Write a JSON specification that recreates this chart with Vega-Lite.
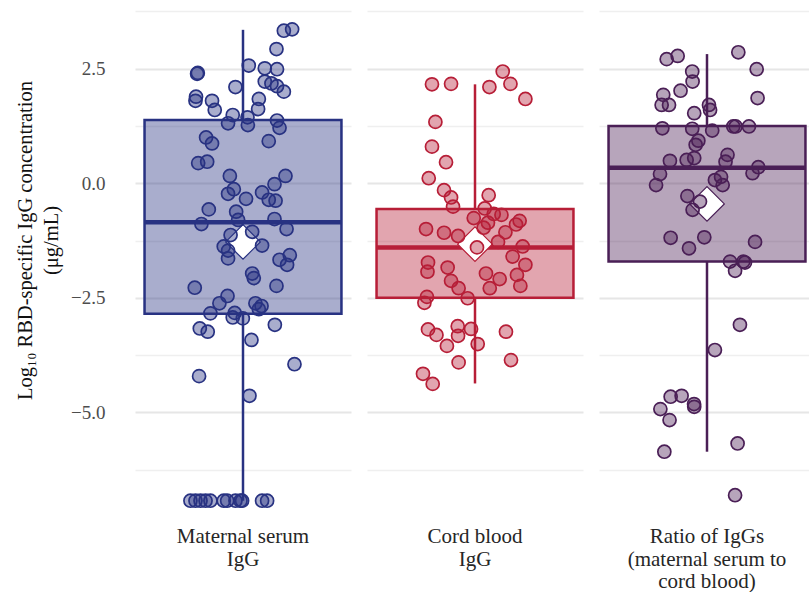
{
  "$schema": "https://vega.github.io/schema/vega-lite/v6.json",
  "padding": {"left": 15, "top": 6, "right": 0, "bottom": 0},
  "background": "white",
  "data": {"values": [
    {"g":"M","kind":"box","q1":-2.85,"q3":1.38,"med":-0.85,"lo":-6.93,"hi":3.35,"mean":-1.28},
    {"g":"C","kind":"box","q1":-2.50,"q3":-0.56,"med":-1.40,"lo":-4.37,"hi":2.16,"mean":-1.33},
    {"g":"R","kind":"box","q1":-1.71,"q3":1.25,"med":0.34,"lo":-5.86,"hi":2.82,"mean":-0.45},
    {"g":"M","j":0.227,"v":3.33},{"g":"M","j":0.273,"v":3.36},{"g":"M","j":0.186,"v":2.93},{"g":"M","j":-0.255,"v":2.39},
    {"g":"M","j":-0.251,"v":2.41},{"g":"M","j":0.032,"v":2.57},{"g":"M","j":0.121,"v":2.51},{"g":"M","j":0.189,"v":2.49},
    {"g":"M","j":-0.042,"v":2.10},{"g":"M","j":0.121,"v":2.22},{"g":"M","j":0.158,"v":2.18},{"g":"M","j":0.189,"v":2.12},
    {"g":"M","j":0.227,"v":2.00},{"g":"M","j":-0.261,"v":1.89},{"g":"M","j":-0.264,"v":1.80},{"g":"M","j":-0.172,"v":1.80},
    {"g":"M","j":-0.157,"v":1.60},{"g":"M","j":0.088,"v":1.84},{"g":"M","j":0.084,"v":1.62},{"g":"M","j":-0.057,"v":1.49},
    {"g":"M","j":0.025,"v":1.44},{"g":"M","j":-0.083,"v":1.31},{"g":"M","j":0.027,"v":1.27},{"g":"M","j":0.189,"v":1.37},
    {"g":"M","j":0.203,"v":1.21},{"g":"M","j":0.143,"v":0.92},{"g":"M","j":-0.205,"v":1.00},{"g":"M","j":-0.172,"v":0.87},
    {"g":"M","j":-0.249,"v":0.44},{"g":"M","j":-0.199,"v":0.47},{"g":"M","j":-0.073,"v":0.16},{"g":"M","j":-0.051,"v":-0.13},
    {"g":"M","j":-0.083,"v":-0.23},{"g":"M","j":0.017,"v":-0.34},{"g":"M","j":0.236,"v":0.16},{"g":"M","j":0.175,"v":-0.02},
    {"g":"M","j":0.106,"v":-0.20},{"g":"M","j":0.143,"v":-0.36},{"g":"M","j":0.181,"v":-0.38},{"g":"M","j":-0.19,"v":-0.57},
    {"g":"M","j":-0.038,"v":-0.62},{"g":"M","j":-0.027,"v":-0.80},{"g":"M","j":-0.231,"v":-0.89},{"g":"M","j":0.175,"v":-0.78},
    {"g":"M","j":0.242,"v":-1.00},{"g":"M","j":-0.069,"v":-1.13},{"g":"M","j":0.051,"v":-1.06},{"g":"M","j":-0.107,"v":-1.38},
    {"g":"M","j":-0.083,"v":-1.47},{"g":"M","j":0.106,"v":-1.36},{"g":"M","j":0.26,"v":-1.57},{"g":"M","j":0.203,"v":-1.67},
    {"g":"M","j":-0.083,"v":-1.64},{"g":"M","j":0.245,"v":-1.78},{"g":"M","j":0.051,"v":-1.97},{"g":"M","j":0.06,"v":-2.07},
    {"g":"M","j":-0.268,"v":-2.28},{"g":"M","j":0.186,"v":-2.24},{"g":"M","j":-0.086,"v":-2.46},{"g":"M","j":-0.131,"v":-2.62},
    {"g":"M","j":-0.181,"v":-2.84},{"g":"M","j":-0.046,"v":-2.83},{"g":"M","j":-0.057,"v":-2.93},{"g":"M","j":-0.001,"v":-2.95},
    {"g":"M","j":0.069,"v":-2.62},{"g":"M","j":0.103,"v":-2.68},{"g":"M","j":0.088,"v":-2.75},{"g":"M","j":-0.24,"v":-3.17},
    {"g":"M","j":-0.196,"v":-3.24},{"g":"M","j":0.177,"v":-3.09},{"g":"M","j":0.047,"v":-3.42},{"g":"M","j":0.286,"v":-3.95},
    {"g":"M","j":-0.244,"v":-4.21},{"g":"M","j":0.036,"v":-4.64},
    {"g":"M","j":-0.292,"v":-6.93},{"g":"M","j":-0.264,"v":-6.93},{"g":"M","j":-0.236,"v":-6.93},{"g":"M","j":-0.208,"v":-6.93},
    {"g":"M","j":-0.181,"v":-6.93},{"g":"M","j":-0.107,"v":-6.93},{"g":"M","j":-0.088,"v":-6.93},{"g":"M","j":-0.042,"v":-6.93},
    {"g":"M","j":-0.014,"v":-6.93},{"g":"M","j":-0.005,"v":-6.93},{"g":"M","j":0.106,"v":-6.93},{"g":"M","j":0.134,"v":-6.93},
    {"g":"C","j":0.154,"v":2.44},{"g":"C","j":0.197,"v":2.17},{"g":"C","j":-0.239,"v":2.16},{"g":"C","j":-0.133,"v":2.17},
    {"g":"C","j":0.08,"v":2.10},{"g":"C","j":0.28,"v":1.84},{"g":"C","j":-0.22,"v":1.34},{"g":"C","j":-0.239,"v":0.80},
    {"g":"C","j":-0.161,"v":0.46},{"g":"C","j":-0.257,"v":0.11},{"g":"C","j":-0.172,"v":-0.15},{"g":"C","j":-0.133,"v":-0.31},
    {"g":"C","j":-0.122,"v":-0.51},{"g":"C","j":0.076,"v":-0.26},{"g":"C","j":0.054,"v":-0.55},{"g":"C","j":-0.007,"v":-0.76},
    {"g":"C","j":0.104,"v":-0.67},{"g":"C","j":0.147,"v":-0.69},{"g":"C","j":0.072,"v":-0.86},{"g":"C","j":0.048,"v":-0.97},
    {"g":"C","j":0.248,"v":-0.82},{"g":"C","j":0.228,"v":-0.90},{"g":"C","j":-0.272,"v":-1.00},{"g":"C","j":-0.172,"v":-1.08},
    {"g":"C","j":-0.094,"v":-1.15},{"g":"C","j":0.169,"v":-1.07},{"g":"C","j":0.128,"v":-1.28},{"g":"C","j":0.265,"v":-1.38},
    {"g":"C","j":0.011,"v":-1.40},{"g":"C","j":0.209,"v":-1.60},{"g":"C","j":0.28,"v":-1.78},{"g":"C","j":-0.261,"v":-1.73},
    {"g":"C","j":-0.264,"v":-1.93},{"g":"C","j":-0.152,"v":-1.84},{"g":"C","j":-0.133,"v":-2.13},{"g":"C","j":-0.091,"v":-2.29},
    {"g":"C","j":0.061,"v":-1.97},{"g":"C","j":0.137,"v":-2.09},{"g":"C","j":0.082,"v":-2.29},{"g":"C","j":0.233,"v":-2.00},
    {"g":"C","j":0.252,"v":-2.24},{"g":"C","j":-0.267,"v":-2.48},{"g":"C","j":-0.281,"v":-2.61},{"g":"C","j":-0.041,"v":-2.51},
    {"g":"C","j":-0.261,"v":-3.19},{"g":"C","j":-0.214,"v":-3.31},{"g":"C","j":-0.096,"v":-3.12},{"g":"C","j":-0.094,"v":-3.33},
    {"g":"C","j":-0.022,"v":-3.18},{"g":"C","j":0.015,"v":-3.51},{"g":"C","j":-0.156,"v":-3.55},{"g":"C","j":0.172,"v":-3.24},
    {"g":"C","j":-0.091,"v":-3.91},{"g":"C","j":0.2,"v":-3.86},{"g":"C","j":-0.289,"v":-4.16},{"g":"C","j":-0.235,"v":-4.38},
    {"g":"R","j":-0.224,"v":2.71},{"g":"R","j":-0.163,"v":2.78},{"g":"R","j":0.174,"v":2.86},{"g":"R","j":0.276,"v":2.49},
    {"g":"R","j":-0.082,"v":2.44},{"g":"R","j":-0.08,"v":2.22},{"g":"R","j":-0.147,"v":2.02},{"g":"R","j":-0.243,"v":1.93},
    {"g":"R","j":-0.252,"v":1.71},{"g":"R","j":-0.211,"v":1.71},{"g":"R","j":0.281,"v":1.86},{"g":"R","j":-0.071,"v":1.53},
    {"g":"R","j":0.011,"v":1.71},{"g":"R","j":0.017,"v":1.60},{"g":"R","j":-0.248,"v":1.20},{"g":"R","j":-0.082,"v":1.19},
    {"g":"R","j":0.029,"v":1.15},{"g":"R","j":0.146,"v":1.24},{"g":"R","j":0.159,"v":1.24},{"g":"R","j":0.233,"v":1.24},
    {"g":"R","j":-0.048,"v":0.93},{"g":"R","j":-0.063,"v":0.84},{"g":"R","j":0.114,"v":0.62},{"g":"R","j":0.103,"v":0.47},
    {"g":"R","j":-0.206,"v":0.49},{"g":"R","j":-0.113,"v":0.51},{"g":"R","j":-0.071,"v":0.55},{"g":"R","j":-0.261,"v":0.20},
    {"g":"R","j":-0.283,"v":-0.04},{"g":"R","j":0.044,"v":0.07},{"g":"R","j":0.078,"v":0.14},{"g":"R","j":0.087,"v":-0.04},
    {"g":"R","j":0.285,"v":0.35},{"g":"R","j":0.253,"v":0.22},{"g":"R","j":-0.109,"v":-0.28},{"g":"R","j":-0.039,"v":-0.40},
    {"g":"R","j":-0.08,"v":-0.58},{"g":"R","j":-0.202,"v":-1.19},{"g":"R","j":-0.015,"v":-1.18},{"g":"R","j":-0.1,"v":-1.42},
    {"g":"R","j":0.267,"v":-1.28},{"g":"R","j":0.128,"v":-1.71},{"g":"R","j":0.202,"v":-1.71},{"g":"R","j":0.211,"v":-1.73},
    {"g":"R","j":0.156,"v":-1.91},{"g":"R","j":0.183,"v":-3.09},{"g":"R","j":0.044,"v":-3.64},{"g":"R","j":-0.202,"v":-4.66},
    {"g":"R","j":-0.141,"v":-4.64},{"g":"R","j":-0.072,"v":-4.82},{"g":"R","j":-0.071,"v":-4.88},{"g":"R","j":-0.259,"v":-4.93},
    {"g":"R","j":-0.208,"v":-5.17},{"g":"R","j":0.17,"v":-5.68},{"g":"R","j":-0.237,"v":-5.86},{"g":"R","j":0.156,"v":-6.81}
  ]},
  "facet": {
    "column": {
      "field": "g", "type": "nominal", "sort": ["M", "C", "R"],
      "header": {
        "title": null,
        "labelOrient": "bottom",
        "labelExpr": "datum.value == 'M' ? ['Maternal serum', 'IgG'] : datum.value == 'C' ? ['Cord blood', 'IgG'] : ['Ratio of IgGs', '(maternal serum to', 'cord blood)']",
        "labelFont": "Liberation Serif",
        "labelFontSize": 21,
        "labelColor": "#262626",
        "labelPadding": 1,
        "labelLineHeight": 22.5
      }
    }
  },
  "spacing": 16,
  "spec": {
    "width": 216,
    "height": 519,
    "encoding": {
      "y": {
        "type": "quantitative",
        "scale": {"domain": [-7.46, 3.87], "nice": false, "zero": false},
        "axis": {
          "values": [-6.25, -5, -3.75, -2.5, -1.25, 0, 1.25, 2.5, 3.75],
          "labelExpr": "abs(datum.value % 2.5) < 0.01 ? format(datum.value, '.1f') : ''",
          "title": ["Log₁₀ RBD-specific IgG concentration", "(μg/mL)"],
          "titleFont": "Liberation Serif",
          "titleFontSize": 20.5,
          "titleFontWeight": "normal",
          "titleColor": "#111111",
          "titleLineHeight": 26,
          "titlePadding": 9,
          "titleY": 234,
          "labelFont": "Liberation Serif",
          "labelFontSize": 19,
          "labelColor": "#4d4d4d",
          "labelPadding": 30,
          "ticks": false,
          "domain": false,
          "grid": true,
          "gridColor": {"condition": {"test": "abs(datum.value % 2.5) < 0.01", "value": "#e6e6e6"}, "value": "#efefef"},
          "gridWidth": {"condition": {"test": "abs(datum.value % 2.5) < 0.01", "value": 1.8}, "value": 1.3}
        }
      },
      "color": {
        "field": "g", "type": "nominal",
        "scale": {"domain": ["M", "C", "R"], "range": ["#283282", "#b71e37", "#4a1f56"]},
        "legend": null
      }
    },
    "layer": [
      {
        "transform": [{"filter": "datum.kind == 'box'"}],
        "mark": {"type": "rect", "fillOpacity": 0.4, "strokeWidth": 2.5},
        "encoding": {
          "x": {"datum": -0.547, "type": "quantitative", "scale": {"domain": [-0.6, 0.6], "nice": false, "zero": false}, "axis": null},
          "x2": {"datum": 0.547},
          "y": {"field": "q1"},
          "y2": {"field": "q3"},
          "stroke": {"field": "g", "type": "nominal", "scale": {"domain": ["M", "C", "R"], "range": ["#283282", "#b71e37", "#4a1f56"]}, "legend": null}
        }
      },
      {
        "transform": [{"filter": "datum.kind == 'box'"}],
        "mark": {"type": "rule", "strokeWidth": 2.5},
        "encoding": {
          "x": {"datum": 0, "type": "quantitative"},
          "y": {"field": "q3"},
          "y2": {"field": "hi"}
        }
      },
      {
        "transform": [{"filter": "datum.kind == 'box'"}],
        "mark": {"type": "rule", "strokeWidth": 2.5},
        "encoding": {
          "x": {"datum": 0, "type": "quantitative"},
          "y": {"field": "lo"},
          "y2": {"field": "q1"}
        }
      },
      {
        "transform": [{"filter": "datum.kind == 'box'"}],
        "mark": {"type": "rule", "strokeWidth": 4.5},
        "encoding": {
          "x": {"datum": -0.547, "type": "quantitative"},
          "x2": {"datum": 0.547},
          "y": {"field": "med"}
        }
      },
      {
        "transform": [{"filter": "datum.kind == 'box'"}],
        "mark": {"type": "point", "shape": "diamond", "filled": true, "fill": "white", "opacity": 1, "strokeWidth": 1.2, "size": 1200},
        "encoding": {
          "x": {"datum": 0, "type": "quantitative"},
          "y": {"field": "mean"},
          "stroke": {"field": "g", "type": "nominal", "scale": {"domain": ["M", "C", "R"], "range": ["#283282", "#b71e37", "#4a1f56"]}, "legend": null}
        }
      },
      {
        "transform": [{"filter": "isValid(datum.v)"}],
        "mark": {"type": "circle", "size": 170, "fillOpacity": 0.4, "strokeWidth": 1.7, "opacity": 1},
        "encoding": {
          "x": {"field": "j", "type": "quantitative"},
          "y": {"field": "v"},
          "stroke": {"field": "g", "type": "nominal", "scale": {"domain": ["M", "C", "R"], "range": ["#283282", "#b71e37", "#4a1f56"]}, "legend": null}
        }
      }
    ]
  },
  "config": {
    "view": {"stroke": null},
    "font": "Liberation Serif",
    "header": {"labelFont": "Liberation Serif", "titleFont": "Liberation Serif"}
  }
}
